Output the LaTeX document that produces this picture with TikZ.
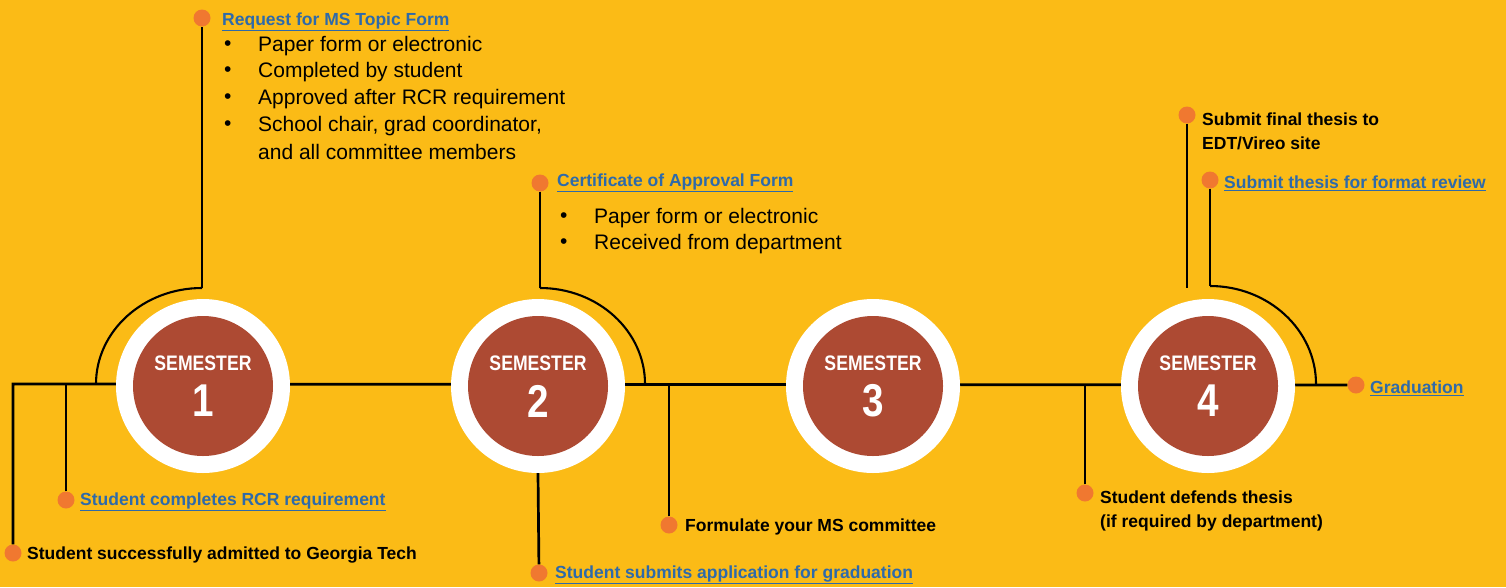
\documentclass[tikz,border=0pt]{standalone}
\usepackage{fontspec}
\setmainfont{Liberation Sans}
\usepackage{graphicx}
\definecolor{bgyellow}{RGB}{251,187,22}
\definecolor{semred}{RGB}{173,74,51}
\definecolor{dotorange}{RGB}{240,120,48}
\definecolor{linkblue}{RGB}{46,106,170}
\newcommand{\lnk}[1]{\underline{#1}}
\newcommand{\cnd}[1]{\scalebox{0.84}[1]{#1}}
\tikzset{
  dot/.style={circle,fill=dotorange,inner sep=0pt,minimum size=17pt},
  conn/.style={draw=black,line width=2.7pt},
  arcline/.style={draw=black,line width=2.1pt},
  lbl/.style={anchor=west,inner sep=0pt,align=left,yshift=-2pt,font=\fontsize{17.5}{24.5}\selectfont\bfseries,text=black},
  link/.style={lbl,text=linkblue},
  bul/.style={anchor=west,inner sep=0pt,yshift=-2pt,font=\fontsize{21}{26.5}\selectfont,text=black},
  outerc/.style={circle,fill=white,minimum size=174pt,inner sep=0pt},
  innerc/.style={circle,fill=semred,minimum size=140pt,inner sep=0pt},
  semlbl/.style={text=white,inner sep=0pt,font=\fontsize{21}{21}\selectfont\bfseries},
  semnum/.style={text=white,inner sep=0pt,font=\fontsize{46}{46}\selectfont\bfseries},
}
\begin{document}
\begin{tikzpicture}[x=1pt,y=-1pt]
\fill[bgyellow] (0,0) rectangle (1506,587);
\useasboundingbox (0,0) rectangle (1506,587);

% dots
\node[dot] (d0) at (13,553) {};
\node[dot] (d1) at (66,500) {};
\node[dot] (dreq) at (202,18) {};
\node[dot] (dcert) at (540,183) {};
\node[dot] (dgrad) at (539,573) {};
\node[dot] (dcomm) at (669,525) {};
\node[dot] (ddef) at (1085,493) {};
\node[dot] (dfinal) at (1187,115) {};
\node[dot] (dfmt) at (1210,180) {};
\node[dot] (dgradn) at (1356,385) {};

% junction coordinates
\coordinate (start) at (13,384);
\coordinate (j1) at (96,384);
\coordinate (t1) at (202,288);
\coordinate (t2) at (540,288);
\coordinate (j2) at (645,384);
\coordinate (t4) at (1210,286);
\coordinate (j4) at (1316,384);
\coordinate (e4) at (1187,288);

% main line and branches
\draw[conn,line join=miter] (d0) -- (start) -- (dgradn);
\draw[conn] (d1) -- (d1 |- start);
\draw[conn] (dcomm) -- (dcomm |- start);
\draw[conn] (ddef) -- (ddef |- start);
\draw[arcline] (j1) .. controls (96,331) and (143.5,288) .. (t1);
\draw[conn] (t1) -- (dreq);
\draw[conn] (dcert) -- (t2);
\draw[arcline] (t2) .. controls (598,288) and (645,331) .. (j2);
\draw[conn] (dfinal) -- (e4);
\draw[conn] (dfmt) -- (t4);
\draw[arcline] (t4) .. controls (1268.5,286) and (1316,330) .. (j4);

% semester circles
\foreach \i/\x in {1/203,2/538,3/873,4/1208}{
  \node[outerc] (s\i o) at (\x,386) {};
  \node[innerc] (s\i) at (\x,386) {};
  \node[semlbl] (s\i l) at (\x,363.5) {\cnd{SEMESTER}};
  \node[semnum] (s\i n) at (\x,401) {\cnd{\i}};
}
\draw[conn] (s2o.south) -- (dgrad);

% labels
\node[lbl] (l0) at (27,553) {Student successfully admitted to Georgia Tech};
\node[link] (l1) at (80,500) {\lnk{Student completes RCR requirement}};
\node[link] (lreq) at (222,20) {\lnk{Request for MS Topic Form}};
\node[link] (lcert) at (557,181) {\lnk{Certificate of Approval Form}};
\node[link] (lgrad) at (555,573) {\lnk{Student submits application for graduation}};
\node[lbl] (lcomm) at (685,525) {Formulate your MS committee};
\node[lbl] (ldef) at (1100,509) {Student defends thesis\\(if required by department)};
\node[lbl] (lfinal) at (1202,129.5) {Submit final thesis to\\EDT/Vireo site};
\node[link] (lfmt) at (1224,181) {\lnk{Submit thesis for format review}};
\node[link] (lgradn) at (1370,386) {\lnk{Graduation}};

% bullet lists
\foreach \y/\t in {44/Paper form or electronic,70/Completed by student,97/Approved after RCR requirement,124/{School chair, grad coordinator,}}{
  \node[bul] at (224,\y) {\textbullet};
  \node[bul] at (258,\y) {\t};
}
\node[bul] (b15) at (258,150) {and all committee members};
\foreach \y/\t in {216/Paper form or electronic,242/Received from department}{
  \node[bul] at (560,\y) {\textbullet};
  \node[bul] at (594,\y) {\t};
}
\end{tikzpicture}
\end{document}
